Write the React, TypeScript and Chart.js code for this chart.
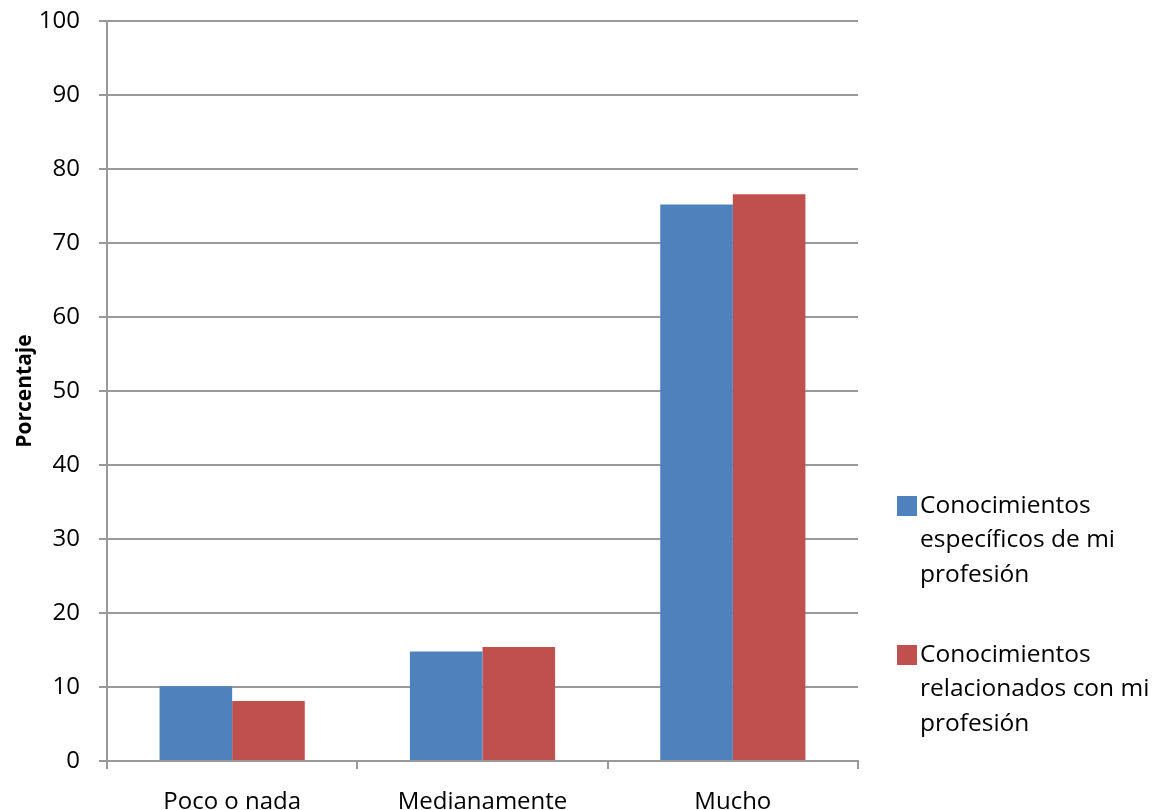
import React, { useEffect, useRef } from "react";
import { Chart, registerables } from "chart.js";

Chart.register(...registerables);

const categories = ["Poco o nada", "Medianamente", "Mucho"];
const seriesNames = [
  ["Conocimientos", "específicos de mi", "profesión"],
  ["Conocimientos", "relacionados con mi", "profesión"],
];
const especificos = [10.1, 14.8, 75.2];
const relacionados = [8.1, 15.4, 76.6];
const seriesColors = ["#4F81BD", "#C0504D"];
const yTicks = [0, 10, 20, 30, 40, 50, 60, 70, 80, 90, 100];

const FONT = "'Open Sans', 'Noto Sans', sans-serif";
const LINE = "#999999";

const legendPlugin = {
  id: "sideLegend",
  afterDraw(chart: any) {
    const ctx = chart.ctx;
    ctx.save();
    const x0 = 897;
    const starts = [506, 655];
    const lh = 34.5;
    chart.data.datasets.forEach((ds: any, i: number) => {
      const y = starts[i];
      ctx.fillStyle = ds.backgroundColor;
      ctx.fillRect(x0, y - 10, 20, 20);
      ctx.fillStyle = "#000";
      ctx.font = `24.5px ${FONT}`;
      ctx.textBaseline = "middle";
      ctx.textAlign = "left";
      (ds.legendLines as string[]).forEach((line: string, j: number) => {
        ctx.fillText(line, x0 + 23, y + j * lh);
      });
    });
    ctx.restore();
  },
};

export default function App() {
  const ref = useRef<HTMLCanvasElement>(null);
  useEffect(() => {
    if (!ref.current) return;
    const chart = new Chart(ref.current, {
      type: "bar",
      data: {
        labels: categories,
        datasets: [
          {
            label: seriesNames[0].join(" "),
            data: especificos,
            backgroundColor: seriesColors[0],
            categoryPercentage: 0.58,
            barPercentage: 1.0,
            legendLines: seriesNames[0],
          } as any,
          {
            label: seriesNames[1].join(" "),
            data: relacionados,
            backgroundColor: seriesColors[1],
            categoryPercentage: 0.58,
            barPercentage: 1.0,
            legendLines: seriesNames[1],
          } as any,
        ],
      },
      options: {
        responsive: false,
        animation: false,
        layout: { padding: { left: 0, right: 297, top: 21, bottom: 0 } },
        plugins: {
          legend: { display: false },
          tooltip: { enabled: false },
        },
        scales: {
          x: {
            grid: {
              offset: true,
              drawOnChartArea: false,
              drawTicks: true,
              tickLength: 8,
              color: LINE,
              lineWidth: 2,
            },
            border: { display: true, color: LINE, width: 2 },
            ticks: {
              color: "#000",
              font: { family: FONT, size: 24 },
              padding: 19,
              maxRotation: 0,
            },
            afterFit(scale: any) {
              scale.height = 49;
              scale.paddingLeft = 0;
              scale.paddingRight = 0;
            },
          },
          y: {
            min: 0,
            max: 100,
            afterBuildTicks(scale: any) {
              scale.ticks = yTicks.map((v) => ({ value: v }));
            },
            grid: {
              color: LINE,
              lineWidth: 2,
              tickLength: 8,
            },
            border: { display: true, color: LINE, width: 2 },
            ticks: {
              color: "#000",
              font: { family: FONT, size: 24 },
              padding: 19,
            },
            title: {
              display: true,
              text: "Porcentaje",
              color: "#000",
              font: { family: FONT, size: 21, weight: "bold" },
              padding: { top: 12, bottom: 0 },
            },
            afterFit(scale: any) {
              scale.width = 107;
              scale.paddingTop = 0;
              scale.paddingBottom = 0;
            },
          },
        },
      },
      plugins: [legendPlugin],
    });
    return () => chart.destroy();
  }, []);
  return (
    <div style={{ position: "absolute", left: 0, top: 0, width: 1155, height: 810, background: "#fff" }}>
      <canvas ref={ref} width={1155} height={810} style={{ display: "block" }} />
    </div>
  );
}
